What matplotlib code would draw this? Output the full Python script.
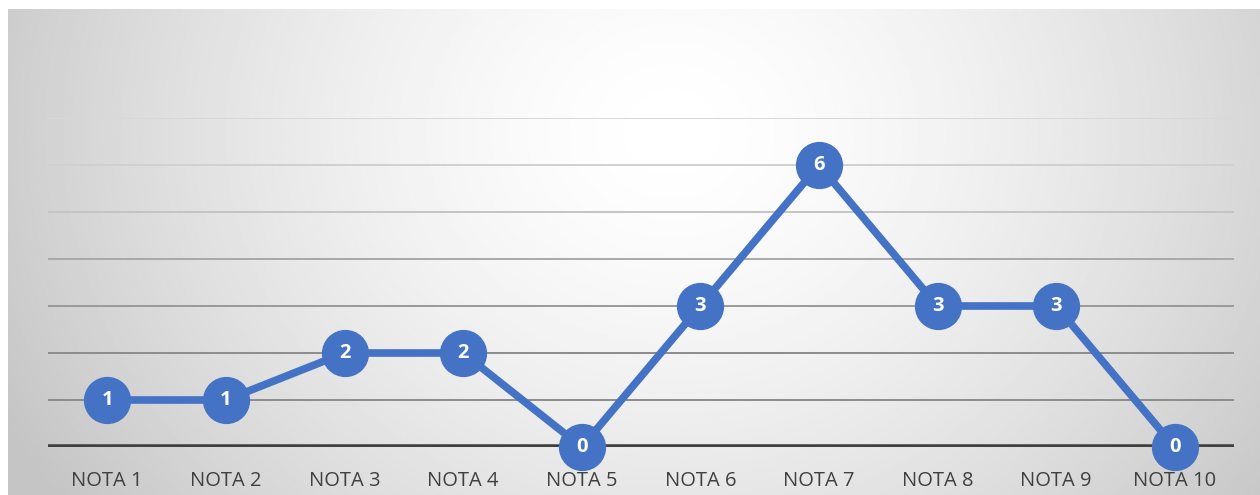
import numpy as np
import matplotlib
matplotlib.use("Agg")
import matplotlib.pyplot as plt

# dados
categorias = ["NOTA 1", "NOTA 2", "NOTA 3", "NOTA 4", "NOTA 5",
              "NOTA 6", "NOTA 7", "NOTA 8", "NOTA 9", "NOTA 10"]
valores = [1, 1, 2, 2, 0, 3, 6, 3, 3, 0]

azul = "#4472C4"
plt.rcParams['font.family'] = ['Open Sans', 'DejaVu Sans']

W, H = 1260, 495
fig = plt.figure(figsize=(W / 100, H / 100), dpi=100)

# fundo com gradiente radial
bg = fig.add_axes([8 / W, 0, 1 - 8 / W, 1 - 9 / H])
ny, nx = 300, 700
yy, xx = np.mgrid[0:ny, 0:nx]
cx, cy = 0.53 * nx, 0.25 * ny
d = np.sqrt(((xx - cx) / nx) ** 2 + ((yy - cy) / ny * 0.45) ** 2)
d = np.clip(d / 0.6, 0, 1)
g = 1.0 - 0.23 * d ** 1.5
bg.imshow(g, cmap="gray", vmin=0, vmax=1, aspect="auto", interpolation="bilinear")
bg.set_axis_off()

ax = fig.add_axes([48 / W, 1 - 447 / H, (1234 - 48) / W, (447 - 118) / H])
ax.patch.set_alpha(0)
x = np.arange(len(categorias))

cores_grade = ["#8c8c8c", "#8c8c8c", "#999999", "#a8a8a8", "#c4c4c4", "#d0d0d0", "#d8d8d8"]
for v, c in zip(range(1, 8), cores_grade):
    ax.axhline(v, color=c, lw=1.4, zorder=1)
ax.axhline(0, color="#404040", lw=4, zorder=2)

ax.plot(x, valores, color=azul, lw=5.5, zorder=3, solid_joinstyle="miter", clip_on=False)
ax.plot(x, valores, "o", ms=33, color=azul, zorder=4, clip_on=False)
for xi, v in zip(x, valores):
    ax.text(xi, v, str(v), ha="center", va="center", color="white",
            fontsize=14.5, fontweight="bold", zorder=5)

ax.set_xlim(-0.5, len(categorias) - 0.5)
ax.set_ylim(0, 7)
ax.set_xticks(x)
ax.set_xticklabels(categorias, fontsize=14.5, color="#404040")
ax.tick_params(axis="x", length=0, pad=17)
ax.set_yticks([])
for s in ax.spines.values():
    s.set_visible(False)

fig.savefig("out.png", dpi=100)
